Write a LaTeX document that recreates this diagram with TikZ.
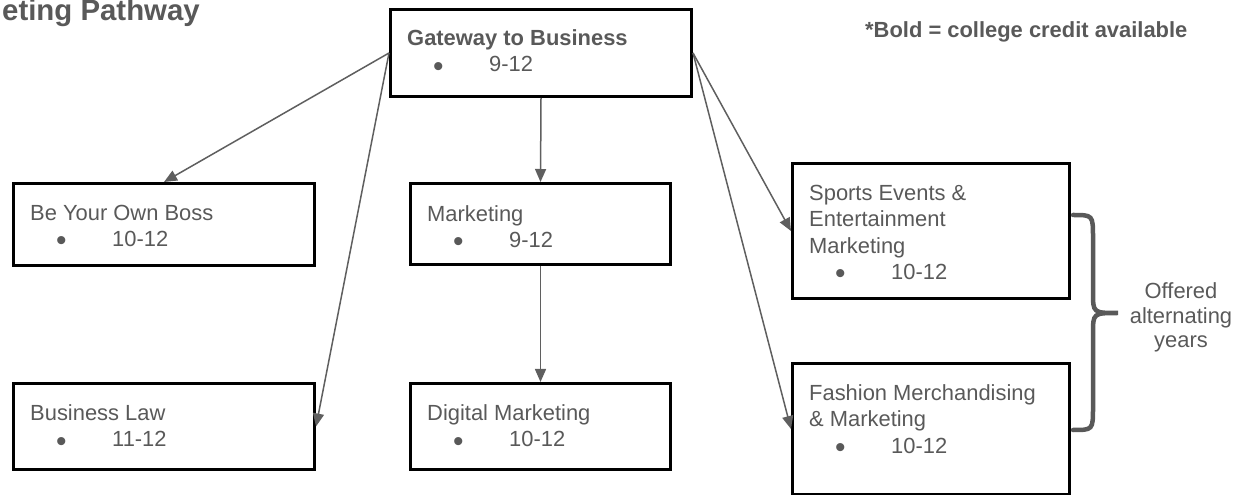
\documentclass[tikz,border=0pt]{standalone}
\usepackage{fontspec}
\setmainfont{Liberation Sans}
\usetikzlibrary{arrows.meta}
\definecolor{txtgray}{HTML}{595959}
\definecolor{linegray}{HTML}{5F5F5F}
\tikzset{
  box/.style={draw=black, line width=3bp, rectangle, inner sep=0pt, anchor=north west},
  txt/.style={text=txtgray, inner sep=0pt, anchor=base west, align=left, font=\fontsize{22}{26.5}\selectfont},
  conn/.style={draw=linegray, line width=1.5bp, -{Triangle[length=13bp,width=11bp]}},
}
\newcommand{\bul}[1]{\makebox[82bp][l]{\hspace*{26bp}\raisebox{-4.5bp}{\fontsize{30}{26}\selectfont\textbullet}}#1}
\begin{document}
\begin{tikzpicture}[x=1bp,y=-1bp]
\useasboundingbox (0,0) rectangle (1245,495);
% title and note
\node[txt, anchor=base east, font=\bfseries\fontsize{29.5}{32}\selectfont] (title) at (200,21) {eting Pathway};
\node[txt, font=\bfseries\fontsize{22}{27}\selectfont] (note) at (865,38) {*Bold = college credit available};
% boxes
\node[box, minimum width=301bp, minimum height=87bp] (gate) at (389,8) {};
\node[box, minimum width=301bp, minimum height=82bp] (boss) at (12,182) {};
\node[box, minimum width=301bp, minimum height=86bp] (law) at (12,382) {};
\node[box, minimum width=260bp, minimum height=81bp] (mkt) at (409,182) {};
\node[box, minimum width=260bp, minimum height=86bp] (dig) at (409,382) {};
\node[box, minimum width=277bp, minimum height=135bp] (sports) at (791,162) {};
\node[box, minimum width=277bp, minimum height=131bp] (fashion) at (791,362) {};
% texts (anchored at the baseline of their last line)
\node[txt] (gatet) at (407,72) {\textbf{Gateway to Business}\\\bul{9-12}};
\node[txt] (bosst) at (30,246.5) {Be Your Own Boss\\\bul{10-12}};
\node[txt] (lawt) at (30,446.5) {Business Law\\\bul{11-12}};
\node[txt] (mktt) at (427,247.5) {Marketing\\\bul{9-12}};
\node[txt] (digt) at (427,446.5) {Digital Marketing\\\bul{10-12}};
\node[txt] (sportst) at (809,279.5) {Sports Events \&\\Entertainment\\Marketing\\\bul{10-12}};
\node[txt] (fashiont) at (809,453) {Fashion Merchandising\\\& Marketing\\\bul{10-12}};
% connectors
\draw[conn] (gate.west) -- (boss.north);
\draw[conn] (gate.west) -- (law.east);
\draw[conn] (gate.south) -- (mkt.north);
\draw[conn] (mkt.south) -- (dig.north);
\draw[conn] (gate.east) -- (sports.west);
\draw[conn] (gate.east) -- (fashion.west);
% brace
\coordinate (btop) at (1073,215);
\coordinate (btip) at (1118,313);
\coordinate (bbot) at (1073,430);
\draw[draw=txtgray, line width=4.5bp, line cap=round] (btop) .. controls (1093,215) .. (1093,238) -- (1093,292) .. controls (1093,313) .. (btip) .. controls (1093,313) .. (1093,334) -- (1093,407) .. controls (1093,430) .. (bbot);
\node[text=txtgray, align=center, inner sep=0pt, anchor=base, font=\fontsize{22}{25}\selectfont] (offered) at (1181,348) {Offered\\alternating\\years};
\end{tikzpicture}
\end{document}
